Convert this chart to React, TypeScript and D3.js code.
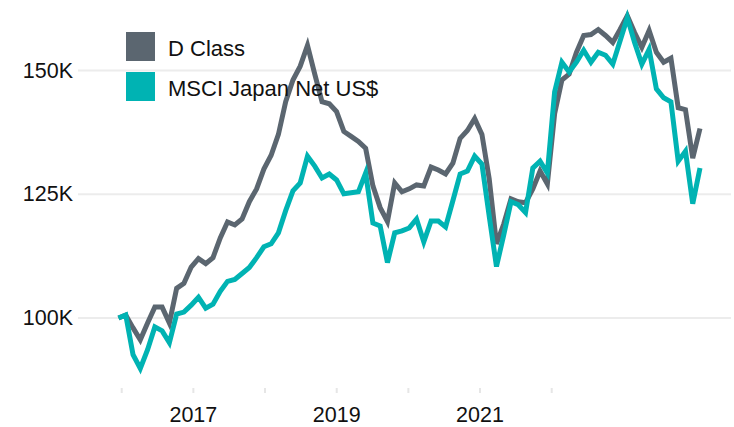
import React from "react";
import * as d3 from "d3";

const seriesNames = ["D Class", "MSCI Japan Net US$"];
const seriesColors = ["#5b6670", "#00b3b3"];

// Monthly values in thousands (index 0 = start)
const dClass = [
  100.0, 100.6, 98.0, 95.6, 99.0, 102.2, 102.2, 99.0, 106.0, 107.0,
  110.3, 112.0, 111.0, 112.2, 116.2, 119.4, 118.8, 120.0, 123.5, 126.1,
  130.1, 132.9, 137.1, 143.7, 148.1, 150.9, 155.1, 149.3, 143.7, 143.3,
  141.7, 137.7, 136.7, 135.7, 134.3, 126.7, 122.3, 119.5, 127.3, 125.5,
  126.1, 126.9, 126.7, 130.5, 129.9, 129.1, 131.3, 136.3, 137.9, 140.3,
  137.1, 128.1, 115.0, 119.0, 124.1, 123.5, 123.3, 126.1, 129.7, 127.1,
  141.3, 148.1, 149.3, 153.7, 157.1, 157.3, 158.3, 157.1, 155.7, 158.3,
  161.1, 157.7, 154.7, 158.1, 153.7, 151.7, 152.5, 142.5, 142.1, 132.3,
  138.3,
];

const msciJapan = [
  100.0, 100.6, 92.6, 89.8, 93.6, 98.2, 97.4, 95.0, 100.8, 101.2,
  102.6, 104.2, 102.0, 102.8, 105.4, 107.4, 107.8, 109.0, 110.2, 112.2,
  114.4, 115.0, 117.2, 121.7, 125.7, 127.3, 132.7, 130.7, 128.3, 129.1,
  127.9, 125.1, 125.3, 125.5, 129.3, 119.2, 118.6, 111.2, 117.2, 117.6,
  118.2, 120.0, 115.4, 119.6, 119.6, 118.4, 123.7, 129.1, 129.7, 132.7,
  131.1, 120.6, 110.4, 116.8, 123.5, 122.9, 121.3, 130.3, 131.7, 129.3,
  145.7, 151.7, 149.7, 151.7, 154.1, 151.7, 153.7, 153.1, 151.3, 156.0,
  160.7, 155.7, 151.3, 154.3, 146.3, 144.5, 143.7, 131.7, 133.7, 123.1,
  130.3,
];

const yTicks = [100, 125, 150];
const xTickYears = [2016, 2017, 2018, 2019, 2020, 2021, 2022];
const xLabelYears = [2017, 2019, 2021];

const W = 734;
const H = 427;

export default function App() {
  const n = dClass.length;
  const x = d3.scaleLinear().domain([0, n - 1]).range([118.5, 700]);
  const xYear = d3.scaleLinear().domain([2016, 2022]).range([121.7, 551.7]);
  const y = d3.scaleLinear().domain([100, 150]).range([318, 70.6]);

  const line = d3
    .line<number>()
    .x((_, i) => x(i))
    .y((d) => y(d));

  const series = [dClass, msciJapan];
  const font = "'Liberation Sans', Arial, sans-serif";

  return (
    <svg
      width={W}
      height={H}
      style={{ position: "absolute", left: 0, top: 0, background: "#fff" }}
      fontFamily={font}
    >
      {yTicks.map((t) => (
        <g key={t}>
          <line x1={78} x2={731} y1={y(t)} y2={y(t)} stroke="#ececec" strokeWidth={2} />
          <text
            x={73}
            y={y(t)}
            textAnchor="end"
            dominantBaseline="central"
            fontSize={21.5}
            fill="#111"
          >
            {t}K
          </text>
        </g>
      ))}
      {xTickYears.map((yr) => (
        <line
          key={yr}
          x1={xYear(yr)}
          x2={xYear(yr)}
          y1={388}
          y2={393}
          stroke="#e6e6e6"
          strokeWidth={2}
        />
      ))}
      {xLabelYears.map((yr) => (
        <text key={yr} x={xYear(yr)} y={422} textAnchor="middle" fontSize={21.5} fill="#111">
          {yr}
        </text>
      ))}
      {series.map((s, i) => (
        <path
          key={i}
          d={line(s) || ""}
          fill="none"
          stroke={seriesColors[i]}
          strokeWidth={5}
        />
      ))}
      {seriesNames.map((name, i) => (
        <g key={name} transform={`translate(126, ${32 + i * 40})`}>
          <rect width={29} height={29} fill={seriesColors[i]} />
          <text x={42} y={24} fontSize={22} fill="#111">
            {name}
          </text>
        </g>
      ))}
    </svg>
  );
}
